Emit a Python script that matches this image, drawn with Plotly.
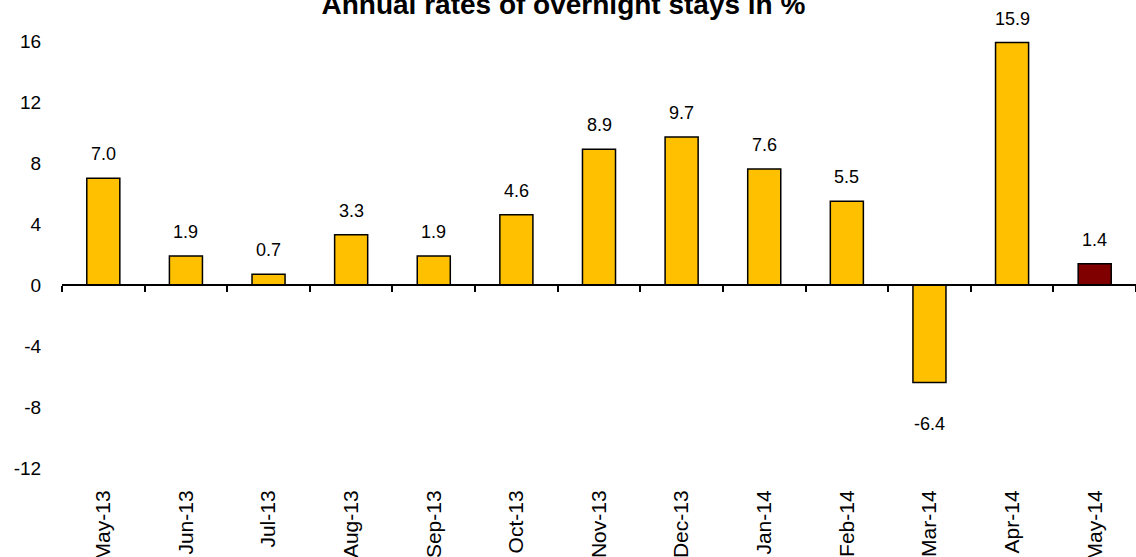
import plotly.graph_objects as go

categories = ["May-13", "Jun-13", "Jul-13", "Aug-13", "Sep-13", "Oct-13", "Nov-13",
              "Dec-13", "Jan-14", "Feb-14", "Mar-14", "Apr-14", "May-14"]
values = [7.0, 1.9, 0.7, 3.3, 1.9, 4.6, 8.9, 9.7, 7.6, 5.5, -6.4, 15.9, 1.4]
y_ticks = [-12, -8, -4, 0, 4, 8, 12, 16]
title = "Annual rates of overnight stays in %"

GOLD = "#FFC000"
MAROON = "#800000"
colors = [GOLD] * (len(values) - 1) + [MAROON]

ymin, ymax = -12, 16
zero_pos = (0 - ymin) / (ymax - ymin)

fig = go.Figure()
fig.add_trace(go.Bar(
    x=categories, y=values,
    marker=dict(color=colors, line=dict(color="black", width=1.5)),
    xaxis="x", yaxis="y", hoverinfo="x+y",
))
# invisible trace to carry the bottom label axis
fig.add_trace(go.Scatter(
    x=categories, y=[None] * len(categories), xaxis="x2", yaxis="y",
    mode="markers", showlegend=False, hoverinfo="skip",
))

for c, v in zip(categories, values):
    fig.add_annotation(
        x=c, y=v, xref="x", yref="y", text=f"{v:.1f}", showarrow=False,
        yanchor="bottom" if v >= 0 else "top",
        yshift=12 if v >= 0 else -29,
        font=dict(family="Arial, Liberation Sans", size=18, color="black"),
    )

fig.update_layout(
    width=1136, height=557,
    margin=dict(l=62, r=0, t=41, b=89, autoexpand=False),
    paper_bgcolor="white", plot_bgcolor="white",
    showlegend=False,
    bargap=0.6,
    title=dict(text="<b>" + title + "</b>", x=0.496, xanchor="center",
               y=1.0 - 4.0 / 557, yanchor="middle", yref="container", automargin=False,
               font=dict(family="Arial, Liberation Sans", size=28, color="black")),
    font=dict(family="Arial, Liberation Sans", size=18, color="black"),
    xaxis=dict(
        type="category", anchor="free", position=zero_pos, automargin=False,
        showline=True, linecolor="black", linewidth=2,
        ticks="outside", tickson="boundaries", ticklen=6, tickcolor="black", tickwidth=1.5,
        showticklabels=False, showgrid=False, zeroline=False,
        range=[-0.5, len(categories) - 0.5],
    ),
    xaxis2=dict(
        type="category", overlaying="x", anchor="y", side="bottom", automargin=False,
        showline=False, ticks="outside", ticklen=13, tickcolor="white",
        tickangle=-90, showgrid=False, zeroline=False,
        tickfont=dict(family="Arial, Liberation Sans", size=21),
        range=[-0.5, len(categories) - 0.5],
    ),
    yaxis=dict(
        range=[ymin, ymax], tickvals=y_ticks, ticktext=[str(t) for t in y_ticks],
        showgrid=False, zeroline=False, automargin=False,
        showline=False, ticks="outside", ticklen=16, tickcolor="white",
        tickfont=dict(family="Arial, Liberation Sans", size=19),
    ),
)

fig.write_html("out.html", config={"displayModeBar": False},
               post_script="document.body.style.margin='0';")
